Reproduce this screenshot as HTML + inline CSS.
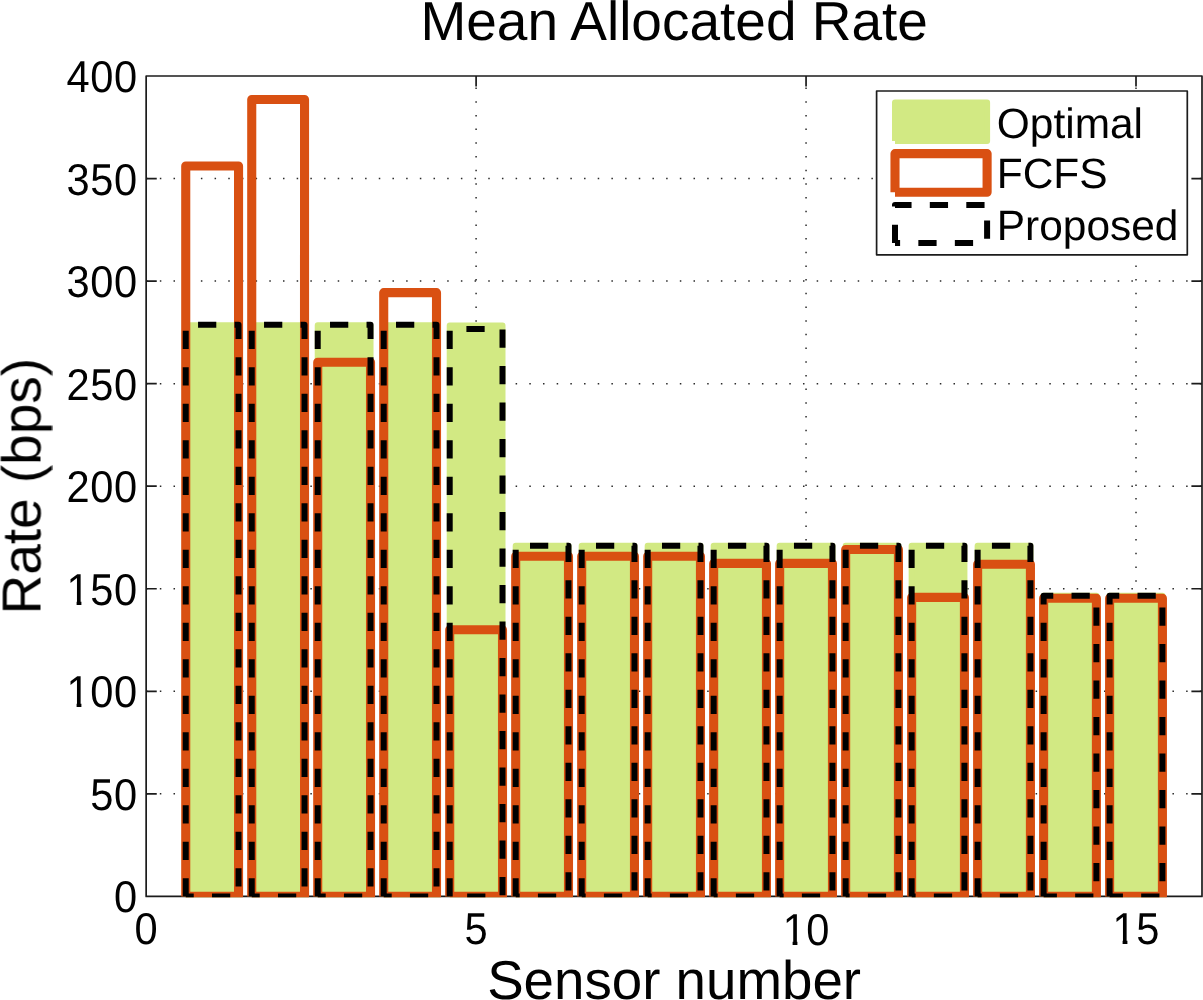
<!DOCTYPE html>
<html lang="en"><head><meta charset="utf-8"><title>Mean Allocated Rate</title>
<style>html,body{margin:0;padding:0;background:#fff}body{width:1203px;height:1000px;overflow:hidden}svg{display:block}text{font-family:"Liberation Sans",Arial,Helvetica,sans-serif;fill:#000;text-rendering:geometricPrecision}</style>
</head><body>
<svg width="1203" height="1000" viewBox="0 0 1203 1000">
<rect width="1203" height="1000" fill="#fff"/>
<defs><clipPath id="ax"><rect x="145.35" y="75.2" width="1057.65" height="822"/></clipPath></defs>
<g stroke="#2a2a2a" stroke-width="1.5" stroke-dasharray="1.5 12.184" fill="none">
<path d="M476.1 896.4V76"/>
<path d="M806.06 896.4V76"/>
<path d="M1136.01 896.4V76"/>
<path d="M146.15 793.85H1202"/>
<path d="M146.15 691.3H1202"/>
<path d="M146.15 588.75H1202"/>
<path d="M146.15 486.2H1202"/>
<path d="M146.15 383.65H1202"/>
<path d="M146.15 281.1H1202"/>
<path d="M146.15 178.55H1202"/>
</g>
<g stroke="#1c1c1c" stroke-width="1.7" fill="none" stroke-linejoin="round">
<path d="M146.15 76H1202V896.4H146.15Z"/>
<path d="M476.1 76v10.6M476.1 896.4v-10.6M806.06 76v10.6M806.06 896.4v-10.6M1136.01 76v10.6M1136.01 896.4v-10.6M146.15 793.85h10.6M1202 793.85h-10.6M146.15 691.3h10.6M1202 691.3h-10.6M146.15 588.75h10.6M1202 588.75h-10.6M146.15 486.2h10.6M1202 486.2h-10.6M146.15 383.65h10.6M1202 383.65h-10.6M146.15 281.1h10.6M1202 281.1h-10.6M146.15 178.55h10.6M1202 178.55h-10.6"/>
</g>
<g clip-path="url(#ax)" stroke-linejoin="round">
<g fill="#d2e983" stroke="#d2e983" stroke-width="6">
<path d="M185.74 896.4V325.2H238.54V896.4H185.74"/>
<path d="M251.74 896.4V325.2H304.53V896.4H251.74"/>
<path d="M317.73 896.4V325.2H370.52V896.4H317.73"/>
<path d="M383.72 896.4V325.2H436.51V896.4H383.72"/>
<path d="M449.71 896.4V325.4H502.5V896.4H449.71"/>
<path d="M515.7 896.4V545.7H568.49V896.4H515.7"/>
<path d="M581.69 896.4V545.7H634.48V896.4H581.69"/>
<path d="M647.68 896.4V545.7H700.47V896.4H647.68"/>
<path d="M713.67 896.4V545.7H766.46V896.4H713.67"/>
<path d="M779.66 896.4V545.7H832.45V896.4H779.66"/>
<path d="M845.65 896.4V545.7H898.44V896.4H845.65"/>
<path d="M911.64 896.4V545.7H964.43V896.4H911.64"/>
<path d="M977.63 896.4V545.7H1030.42V896.4H977.63"/>
<path d="M1043.62 896.4V595.8H1096.41V896.4H1043.62"/>
<path d="M1109.61 896.4V595.8H1162.41V896.4H1109.61"/>
</g>
<g fill="none" stroke="#d95012" stroke-width="9.1">
<path d="M185.74 896.4V166H238.54V896.4H185.74"/>
<path d="M251.74 896.4V99.5H304.53V896.4H251.74"/>
<path d="M317.73 896.4V362.2H370.52V896.4H317.73"/>
<path d="M383.72 896.4V292.6H436.51V896.4H383.72"/>
<path d="M449.71 896.4V629.7H502.5V896.4H449.71"/>
<path d="M515.7 896.4V556.2H568.49V896.4H515.7"/>
<path d="M581.69 896.4V556.2H634.48V896.4H581.69"/>
<path d="M647.68 896.4V556.2H700.47V896.4H647.68"/>
<path d="M713.67 896.4V563.4H766.46V896.4H713.67"/>
<path d="M779.66 896.4V563.4H832.45V896.4H779.66"/>
<path d="M845.65 896.4V549.5H898.44V896.4H845.65"/>
<path d="M911.64 896.4V597.4H964.43V896.4H911.64"/>
<path d="M977.63 896.4V564.3H1030.42V896.4H977.63"/>
<path d="M1043.62 896.4V598.3H1096.41V896.4H1043.62"/>
<path d="M1109.61 896.4V598.3H1162.41V896.4H1109.61"/>
</g>
<g fill="none" stroke="#000" stroke-width="6" stroke-dasharray="18.25 18.25">
<path d="M185.74 896.4V324.7H238.54V896.4H185.74"/>
<path d="M251.74 896.4V324.7H304.53V896.4H251.74"/>
<path d="M317.73 896.4V324.7H370.52V896.4H317.73"/>
<path d="M383.72 896.4V324.7H436.51V896.4H383.72"/>
<path d="M449.71 896.4V329.1H502.5V896.4H449.71"/>
<path d="M515.7 896.4V545.7H568.49V896.4H515.7"/>
<path d="M581.69 896.4V545.7H634.48V896.4H581.69"/>
<path d="M647.68 896.4V545.7H700.47V896.4H647.68"/>
<path d="M713.67 896.4V545.7H766.46V896.4H713.67"/>
<path d="M779.66 896.4V545.7H832.45V896.4H779.66"/>
<path d="M845.65 896.4V545.7H898.44V896.4H845.65"/>
<path d="M911.64 896.4V545.7H964.43V896.4H911.64"/>
<path d="M977.63 896.4V545.7H1030.42V896.4H977.63"/>
<path d="M1043.62 896.4V595.8H1096.41V896.4H1043.62"/>
<path d="M1109.61 896.4V595.8H1162.41V896.4H1109.61"/>
</g>
</g>
<rect x="876.6" y="91" width="310.7" height="163.8" fill="#fff" stroke="#1c1c1c" stroke-width="1.7" stroke-linejoin="round"/>
<g stroke-linejoin="round">
<path d="M895 140.9V102.5H987.1V140.9H895" fill="#d2e983" stroke="#d2e983" stroke-width="6"/>
<path d="M895 192.2V153.6H987.1V192.2H895" fill="none" stroke="#d95012" stroke-width="9.1"/>
<path d="M895 243.1V204.9H987.1V243.1H895" fill="none" stroke="#000" stroke-width="6" stroke-dasharray="18.25 18.25"/>
</g>
<g opacity="0.999">
<g font-size="42.45">
<text x="996.8" y="137.5">Optimal</text>
<text x="996.8" y="188.3">FCFS</text>
<text x="996.8" y="239.5">Proposed</text>
</g>
<g font-size="42.45" text-anchor="end" style="letter-spacing:0.6px">
<text transform="translate(137.7 912.4) scale(0.98 1.05)">0</text>
<text transform="translate(137.7 809.85) scale(0.98 1.05)">50</text>
<text transform="translate(137.7 707.3) scale(0.98 1.05)">100</text>
<text transform="translate(137.7 604.75) scale(0.98 1.05)">150</text>
<text transform="translate(137.7 502.2) scale(0.98 1.05)">200</text>
<text transform="translate(137.7 399.65) scale(0.98 1.05)">250</text>
<text transform="translate(137.7 297.1) scale(0.98 1.05)">300</text>
<text transform="translate(137.7 194.55) scale(0.98 1.05)">350</text>
<text transform="translate(137.7 92) scale(0.98 1.05)">400</text>
</g>
<g font-size="42.45" text-anchor="middle" style="letter-spacing:0.6px">
<text transform="translate(146.45 944.5) scale(0.98 1.05)">0</text>
<text transform="translate(476.4 944.5) scale(0.98 1.05)">5</text>
<text transform="translate(806.36 944.5) scale(0.98 1.05)">10</text>
<text transform="translate(1136.31 944.5) scale(0.98 1.05)">15</text>
</g>
<g font-size="54.7" text-anchor="middle">
<text x="674.18" y="39.6" font-size="55">Mean Allocated Rate</text>
<text x="674.08" y="999">Sensor number</text>
<text transform="translate(40.5 486.2) rotate(-90)" font-size="54.95">Rate (bps)</text>
</g>
</g>
<g fill="#fff">
<rect x="784.6" y="940.2" width="8" height="5.6"/>
<rect x="797.4" y="940.2" width="7.5" height="5.6"/>
<rect x="1114.6" y="939.6" width="8" height="5.6"/>
<rect x="1127.4" y="939.6" width="7.5" height="5.6"/>
<rect x="68.6" y="702.2" width="8" height="5.6"/>
<rect x="81.4" y="702.2" width="7.5" height="5.6"/>
<rect x="68.6" y="600.2" width="8" height="5.6"/>
<rect x="81.4" y="600.2" width="7.5" height="5.6"/>
</g>
</svg></body></html>
